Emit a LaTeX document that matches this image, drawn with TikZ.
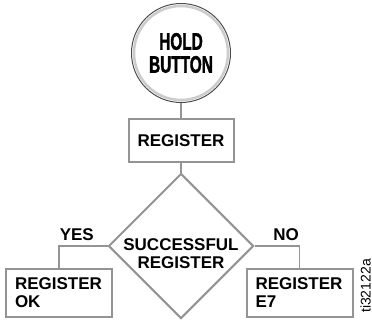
\documentclass[tikz,border=0pt]{standalone}
\usepackage{fontspec}
\setmainfont{Liberation Sans}
\newfontfamily\condbold[FakeStretch=0.64,FakeBold=1.5]{Liberation Sans Bold}
\usepackage{xcolor}
\usetikzlibrary{shapes.geometric,positioning}
\definecolor{lineGray}{gray}{0.58}

\begin{document}
\begin{tikzpicture}[x=1pt, y=1pt,
    every node/.style={font=\fontsize{17}{18}\selectfont\bfseries},
    stepbox/.style={draw=lineGray, line width=2pt, fill=white, inner sep=0pt},
    link/.style={draw=lineGray, line width=1.5pt},
    answer/.style={inner xsep=0pt, inner ysep=5pt}]
    \useasboundingbox (0,0) rectangle (372,322);

    % Start button
    \node[circle, draw=black!70, line width=1pt, fill=white, minimum size=99pt,
          font=\fontsize{24}{23}\selectfont\condbold, align=center] (hold) at (181,269) {HOLD\\BUTTON};
    \draw[gray!40, line width=2.5pt] (hold.center) circle (47pt);

    % Register step and check
    \node[stepbox, minimum width=105pt, minimum height=43pt] (reg) at (181,181.5) {REGISTER};
    \node[diamond, draw=lineGray, line width=2pt, aspect=1, minimum width=145pt, minimum height=145pt, inner sep=0pt] (dec) at (181,76) {};
    \node[align=center, yshift=-8pt] (decText) at (dec) {SUCCESSFUL\\REGISTER};

    % Results
    \node[stepbox, minimum width=106pt, minimum height=48pt, text width=88pt, align=left] (okbox) at (59,29) {REGISTER\\OK};
    \node[stepbox, minimum width=106pt, minimum height=48pt, text width=88pt, align=left] (e7box) at (299.5,29) {REGISTER\\E7};

    \draw[link] (hold.south) -- (reg.north);
    \draw[link] (reg.south) -- (dec.north);
    \draw[link] (dec.west) -| node[answer, pos=0.5, anchor=south west] (yes) {YES} (okbox.north);
    \draw[link] (dec.east) -| node[answer, pos=0.5, anchor=south east] (no) {NO} (e7box.north);

    % Figure id
    \node[rotate=90, inner sep=1pt, font=\fontsize{14}{14}\selectfont] (figId) at (365.5,36) {ti32122a};
\end{tikzpicture}
\end{document}
